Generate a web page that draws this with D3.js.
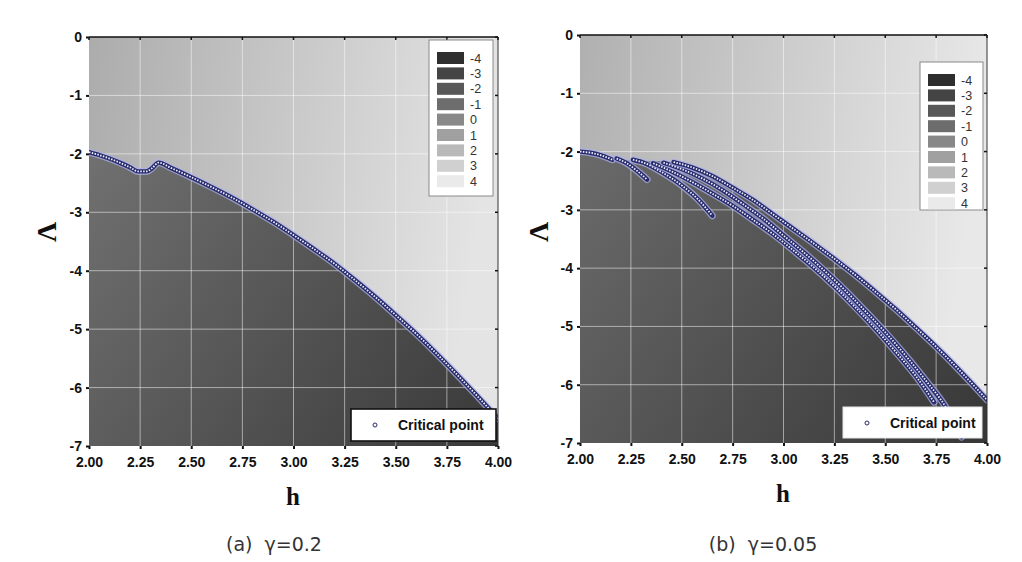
<!DOCTYPE html>
<html><head><meta charset="utf-8">
<script src="https://cdn.jsdelivr.net/npm/d3@7"></script>
<style>body{margin:0;background:#fff}</style>
</head><body>
<svg id="c" width="1022" height="562"></svg>
<script>
// ---------- data ----------
const xTicks = [2.00, 2.25, 2.50, 2.75, 3.00, 3.25, 3.50, 3.75, 4.00];
const yTicks = [0, -1, -2, -3, -4, -5, -6, -7];
const legendLevels = [-4, -3, -2, -1, 0, 1, 2, 3, 4];
const legendColors = ["#2e2e2e", "#444444", "#585858", "#6d6d6d", "#888888", "#a0a0a0", "#b9b9b9", "#d0d0d0", "#eaeaea"];
const markerLabel = "Critical point";
const captions = ["(a)  \u03b3=0.2", "(b)  \u03b3=0.05"];

// (a) gamma = 0.2 : critical points [h, Lambda]
const criticalA = [
  [2.00,-1.97],[2.05,-2.02],[2.10,-2.08],[2.15,-2.15],[2.20,-2.23],[2.24,-2.30],[2.28,-2.30],
  [2.31,-2.24],[2.34,-2.15],[2.40,-2.24],[2.50,-2.40],[2.60,-2.57],[2.70,-2.75],[2.80,-2.95],
  [2.90,-3.16],[3.00,-3.39],[3.10,-3.63],[3.20,-3.88],[3.30,-4.16],[3.40,-4.45],[3.50,-4.76],
  [3.60,-5.08],[3.70,-5.42],[3.80,-5.78],[3.90,-6.15],[4.00,-6.53]
];

// (b) gamma = 0.05 : several branches of critical points
const branchB1 = [[2.00,-2.00],[2.05,-2.02],[2.10,-2.06],[2.16,-2.14]];
const branchB2 = [[2.18,-2.12],[2.23,-2.20],[2.28,-2.33],[2.33,-2.48]];
const branchB3 = [[2.26,-2.14],[2.32,-2.20],[2.40,-2.35],[2.50,-2.58],[2.58,-2.82],[2.65,-3.10]];
const branchB4 = [[2.36,-2.20],[2.45,-2.34],[2.55,-2.52],[2.65,-2.72],[2.75,-2.93],[2.85,-3.17],
  [2.95,-3.42],[3.05,-3.70],[3.15,-3.99],[3.25,-4.31],[3.35,-4.66],[3.45,-5.03],[3.55,-5.43],
  [3.65,-5.85],[3.74,-6.30]];
const branchB5 = [[2.41,-2.19],[2.50,-2.30],[2.60,-2.46],[2.70,-2.66],[2.80,-2.90],[2.90,-3.15],
  [3.00,-3.44],[3.10,-3.73],[3.20,-4.04],[3.30,-4.37],[3.40,-4.73],[3.50,-5.10],[3.60,-5.50],
  [3.70,-5.93],[3.80,-6.40],[3.875,-6.90]];
const branchB6 = [[2.46,-2.18],[2.55,-2.27],[2.65,-2.42],[2.75,-2.62],[2.85,-2.83],[2.95,-3.08],
  [3.05,-3.33],[3.15,-3.58],[3.25,-3.84],[3.35,-4.11],[3.45,-4.40],[3.55,-4.70],[3.65,-5.02],
  [3.75,-5.35],[3.85,-5.70],[3.95,-6.07],[4.00,-6.26]];

// ---------- layout ----------
const panels = [
  {id:"a", x0:89, x1:498, y0:37, y1:446, curves:[criticalA], boundary:criticalA,
   aboveStops:["#acacac","#e4e4e4"], belowStops:["#707070","#393939"],
   legend:{x:429, y:40, w:64, h:156}, cp:{x:351, y:409, w:145, h:32, stroke:"#111", sw:1.6},
   caption:{x:274, text:captions[0]}, hx:293, hy:505, lx:56, ly:232},
  {id:"b", x0:580, x1:987, y0:35, y1:443,
   curves:[branchB1, branchB2, branchB3, branchB4, branchB5, branchB6],
   boundary: branchB1.concat(branchB6),
   aboveStops:["#b0b0b0","#e8e8e8"], belowStops:["#6a6a6a","#373737"],
   legend:{x:920, y:62, w:63, h:148}, cp:{x:843, y:407, w:139, h:31, stroke:"#e6e6e6", sw:1},
   caption:{x:763, text:captions[1]}, hx:783, hy:502, lx:548, ly:232}
];

const svg = d3.select("#c");
const defs = svg.append("defs");

panels.forEach(p => {
  const x = d3.scaleLinear().domain([2, 4]).range([p.x0, p.x1]);
  const y = d3.scaleLinear().domain([0, -7]).range([p.y0, p.y1]);
  const g = svg.append("g");

  // gradients
  const ga = defs.append("linearGradient").attr("id", "ga" + p.id)
    .attr("gradientUnits", "userSpaceOnUse")
    .attr("x1", p.x0).attr("y1", p.y0).attr("x2", p.x1).attr("y2", p.y0 + 60);
  ga.append("stop").attr("offset", 0).attr("stop-color", p.aboveStops[0]);
  ga.append("stop").attr("offset", 1).attr("stop-color", p.aboveStops[1]);
  const gb = defs.append("linearGradient").attr("id", "gb" + p.id)
    .attr("gradientUnits", "userSpaceOnUse")
    .attr("x1", p.x0).attr("y1", p.y0 + 120).attr("x2", p.x1).attr("y2", p.y1);
  gb.append("stop").attr("offset", 0).attr("stop-color", p.belowStops[0]);
  gb.append("stop").attr("offset", 1).attr("stop-color", p.belowStops[1]);
  defs.append("clipPath").attr("id", "cl" + p.id).append("rect")
    .attr("x", p.x0).attr("y", p.y0).attr("width", p.x1 - p.x0).attr("height", p.y1 - p.y0);

  const plot = g.append("g").attr("clip-path", `url(#cl${p.id})`);
  plot.append("rect").attr("x", p.x0).attr("y", p.y0)
    .attr("width", p.x1 - p.x0).attr("height", p.y1 - p.y0).attr("fill", `url(#ga${p.id})`);

  const area = d3.area().x(d => x(d[0])).y0(y(-7)).y1(d => y(d[1])).curve(d3.curveMonotoneX);
  plot.append("path").datum(p.boundary).attr("d", area).attr("fill", `url(#gb${p.id})`);

  // grid
  plot.selectAll(".gx").data(xTicks.slice(1, -1)).join("line")
    .attr("x1", d => x(d)).attr("x2", d => x(d)).attr("y1", p.y0).attr("y2", p.y1)
    .attr("stroke", "#fff").attr("stroke-opacity", 0.5).attr("stroke-width", 1);
  plot.selectAll(".gy").data(yTicks.slice(1, -1)).join("line")
    .attr("y1", d => y(d)).attr("y2", d => y(d)).attr("x1", p.x0).attr("x2", p.x1)
    .attr("stroke", "#fff").attr("stroke-opacity", 0.5).attr("stroke-width", 1);

  // critical point curves
  const line = d3.line().x(d => x(d[0])).y(d => y(d[1])).curve(d3.curveMonotoneX);
  p.curves.forEach(c => {
    plot.append("path").datum(c).attr("d", line).attr("fill", "none")
      .attr("stroke", "#aeb2ea").attr("stroke-width", 7).attr("stroke-opacity", 0.7).attr("stroke-linecap", "round");
    plot.append("path").datum(c).attr("d", line).attr("fill", "none")
      .attr("stroke", "#272b6c").attr("stroke-width", 4.4).attr("stroke-linecap", "round");
    plot.append("path").datum(c).attr("d", line).attr("fill", "none")
      .attr("stroke", "#f2f2ff").attr("stroke-width", 1.8).attr("stroke-dasharray", "1.5,1.4");
  });

  // frame
  g.append("line").attr("x1", p.x0).attr("x2", p.x1).attr("y1", p.y0).attr("y2", p.y0)
    .attr("stroke", "#111").attr("stroke-width", 1.6);
  g.append("line").attr("x1", p.x1).attr("x2", p.x1).attr("y1", p.y0).attr("y2", p.y1)
    .attr("stroke", "#333").attr("stroke-width", 1);
  g.selectAll(".rt").data(yTicks).join("line")
    .attr("x1", p.x1).attr("x2", p.x1 - 3).attr("y1", d => y(d)).attr("y2", d => y(d))
    .attr("stroke", "#111").attr("stroke-width", 1.5);
  g.selectAll(".tt").data(xTicks).join("line")
    .attr("y1", p.y0).attr("y2", p.y0 + 3).attr("x1", d => x(d)).attr("x2", d => x(d))
    .attr("stroke", "#111").attr("stroke-width", 1.5);

  // axes
  const ya = g.append("g").attr("transform", `translate(${p.x0},0)`)
    .call(d3.axisLeft(y).tickValues(yTicks).tickSize(3).tickPadding(4).tickFormat(d => String(d)));
  const xa = g.append("g").attr("transform", `translate(0,${p.y1})`)
    .call(d3.axisBottom(x).tickValues(xTicks).tickSize(3).tickPadding(8).tickFormat(d => d.toFixed(2)));
  [ya, xa].forEach(a => {
    a.select(".domain").remove();
    a.selectAll("line").attr("stroke", "#111").attr("stroke-width", 2);
    a.selectAll("text").attr("font-family", "Liberation Sans, Arial, sans-serif")
      .attr("font-size", 14).attr("font-weight", "bold").attr("fill", "#111");
  });

  // axis titles
  g.append("text").attr("x", p.hx).attr("y", p.hy).attr("text-anchor", "middle")
    .attr("font-family", "Liberation Serif, Times New Roman, serif").attr("font-weight", "bold")
    .attr("font-size", 25).attr("fill", "#111").text("h");
  g.append("text").attr("transform", `translate(${p.lx},${p.ly}) rotate(-90)`).attr("text-anchor", "middle")
    .attr("font-family", "Liberation Serif, Times New Roman, serif").attr("font-weight", "bold")
    .attr("font-size", 28).attr("fill", "#111").text("\u039b");

  // contour legend
  const L = p.legend;
  const lg = g.append("g");
  lg.append("rect").attr("x", L.x).attr("y", L.y).attr("width", L.w).attr("height", L.h)
    .attr("fill", "#fff").attr("stroke", "#8a8a8a").attr("stroke-width", 1);
  lg.selectAll(".sw").data(legendLevels).join("rect")
    .attr("x", L.x + 8).attr("y", (d, i) => L.y + 12 + i * 15.4)
    .attr("width", 27).attr("height", 12)
    .attr("fill", (d, i) => legendColors[i]);
  lg.selectAll(".lt").data(legendLevels).join("text")
    .attr("x", L.x + 41).attr("y", (d, i) => L.y + 22.5 + i * 15.4)
    .attr("font-family", "Liberation Sans, Arial, sans-serif").attr("font-size", 12.5)
    .attr("fill", "#333").text(d => String(d));

  // critical point legend
  const C = p.cp;
  g.append("rect").attr("x", C.x).attr("y", C.y).attr("width", C.w).attr("height", C.h)
    .attr("fill", "#fff").attr("stroke", C.stroke).attr("stroke-width", C.sw);
  g.append("circle").attr("cx", C.x + 24).attr("cy", C.y + 16).attr("r", 2)
    .attr("fill", "#fff").attr("stroke", "#272b6c").attr("stroke-width", 1);
  g.append("text").attr("x", C.x + 47).attr("y", C.y + 21)
    .attr("font-family", "Liberation Sans, Arial, sans-serif").attr("font-size", 14)
    .attr("font-weight", "bold").attr("fill", "#111").text(markerLabel);

  // caption
  g.append("text").attr("x", p.caption.x).attr("y", 551).attr("text-anchor", "middle")
    .attr("font-family", "DejaVu Sans, sans-serif").attr("font-size", 19)
    .attr("fill", "#333").attr("xml:space", "preserve").style("white-space", "pre").text(p.caption.text);
});
</script>
</body></html>
